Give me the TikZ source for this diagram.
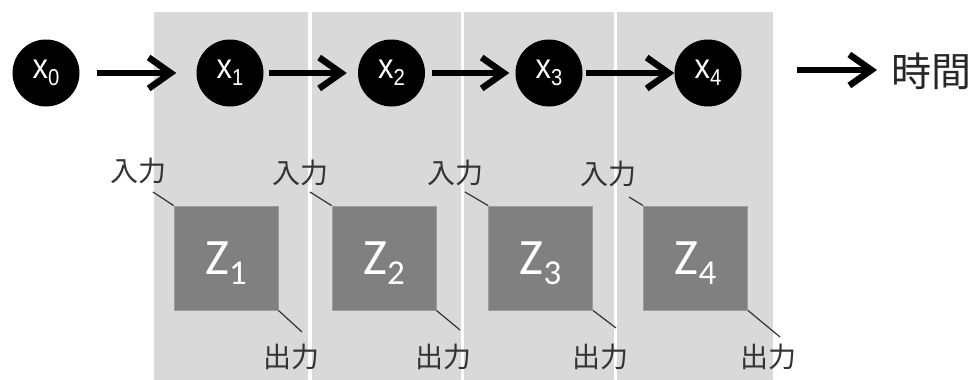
\documentclass[tikz,border=0pt]{standalone}
\usepackage{fontspec}
\usetikzlibrary{arrows.meta,positioning}
\newfontfamily\jpfont{Noto Sans CJK JP}
\newfontfamily\xfont[FakeStretch=0.88]{Liberation Sans}
\newfontfamily\zfont{Carlito}
\definecolor{panelgray}{HTML}{D9D9D9}
\definecolor{boxgray}{HTML}{808080}
\definecolor{boxedge}{HTML}{9C9C9C}
\definecolor{labelgray}{HTML}{333333}
\newcommand{\xlab}[1]{{\fontsize{35}{35}\selectfont x\raisebox{-7pt}{\fontsize{23}{23}\selectfont #1}}}
\newcommand{\zlab}[1]{{\zfont\fontsize{51}{51}\selectfont Z\raisebox{-10pt}{\fontsize{35}{35}\selectfont #1}}}
\begin{document}
\begin{tikzpicture}[x=1pt, y=-1pt,
  xnode/.style={circle, fill=black, minimum size=67pt, inner sep=0pt, text=white, font=\xfont},
  zbox/.style={rectangle, fill=boxgray, draw=boxedge, line width=0.8pt, minimum size=104pt, inner sep=0pt},
  ztext/.style={text=white, inner sep=0pt, anchor=base},
  iolab/.style={text=labelgray, inner sep=0pt, font=\jpfont\fontsize{28}{28}\selectfont},
  ioline/.style={draw=labelgray, line width=1.2pt},
  flow/.style={line width=6.5pt, -{Straight Barb[length=22pt,width=31pt]}}]
\useasboundingbox (0,0) rectangle (975,380);
% time slices
\fill [panelgray] (154,12) rectangle (773,380);
\draw [white, line width=3.5pt] (310,12) -- (310,380);
\draw [white, line width=3.5pt] (462.5,12) -- (462.5,380);
\draw [white, line width=3.5pt] (615.5,12) -- (615.5,380);
% states
\node [xnode] (x0) at (46,73) {\xlab{0}};
\node [xnode] (x1) at (230,73) {\xlab{1}};
\node [xnode] (x2) at (391.5,73) {\xlab{2}};
\node [xnode] (x3) at (549,73) {\xlab{3}};
\node [xnode] (x4) at (708,73) {\xlab{4}};
\draw [flow, shorten <=17pt, shorten >=20pt] (x0) -- (x1);
\draw [flow, shorten <=5pt, shorten >=11pt] (x1) -- (x2);
\draw [flow, shorten <=7pt, shorten >=6pt] (x2) -- (x3);
\draw [flow, shorten <=3pt, shorten >=0pt] (x3) -- (x4);
% time axis
\coordinate (t0) at (797,70);
\coordinate (t1) at (877,70);
\draw [flow] (t0) -- (t1);
\node [inner sep=0pt, text=black!85, font=\jpfont\fontsize{40}{40}\selectfont] (time) at (931,71) {時間};
% blocks
\node [zbox] (z1) at (226,258) {};
\node [zbox] (z2) at (384,258) {};
\node [zbox] (z3) at (540.5,258) {};
\node [zbox] (z4) at (695.5,258) {};
\node [ztext] (z1t) at (226,274) {\zlab{1}};
\node [ztext] (z2t) at (384,274) {\zlab{2}};
\node [ztext] (z3t) at (540.5,274) {\zlab{3}};
\node [ztext] (z4t) at (695.5,274) {\zlab{4}};
% inputs
\node [iolab] (in1) at (138,171) {入力};
\node [iolab] (in2) at (300,173) {入力};
\node [iolab] (in3) at (455,173) {入力};
\node [iolab] (in4) at (608,174) {入力};
\coordinate (in1e) at (153,192);
\coordinate (in2e) at (310,192);
\coordinate (in3e) at (465,192);
\coordinate (in4e) at (629,197);
\draw [ioline] (in1e) -- (z1.north west);
\draw [ioline] (in2e) -- (z2.north west);
\draw [ioline] (in3e) -- (z3.north west);
\draw [ioline] (in4e) -- (z4.north west);
% outputs
\node [iolab] (out1) at (291,357) {出力};
\node [iolab] (out2) at (443,357) {出力};
\node [iolab] (out3) at (600,357) {出力};
\node [iolab] (out4) at (768,357) {出力};
\coordinate (out1e) at (302,332);
\coordinate (out2e) at (460,330);
\coordinate (out3e) at (616,328);
\coordinate (out4e) at (780,337);
\draw [ioline] (z1.south east) -- (out1e);
\draw [ioline] (z2.south east) -- (out2e);
\draw [ioline] (z3.south east) -- (out3e);
\draw [ioline] (z4.south east) -- (out4e);
\end{tikzpicture}
\end{document}
